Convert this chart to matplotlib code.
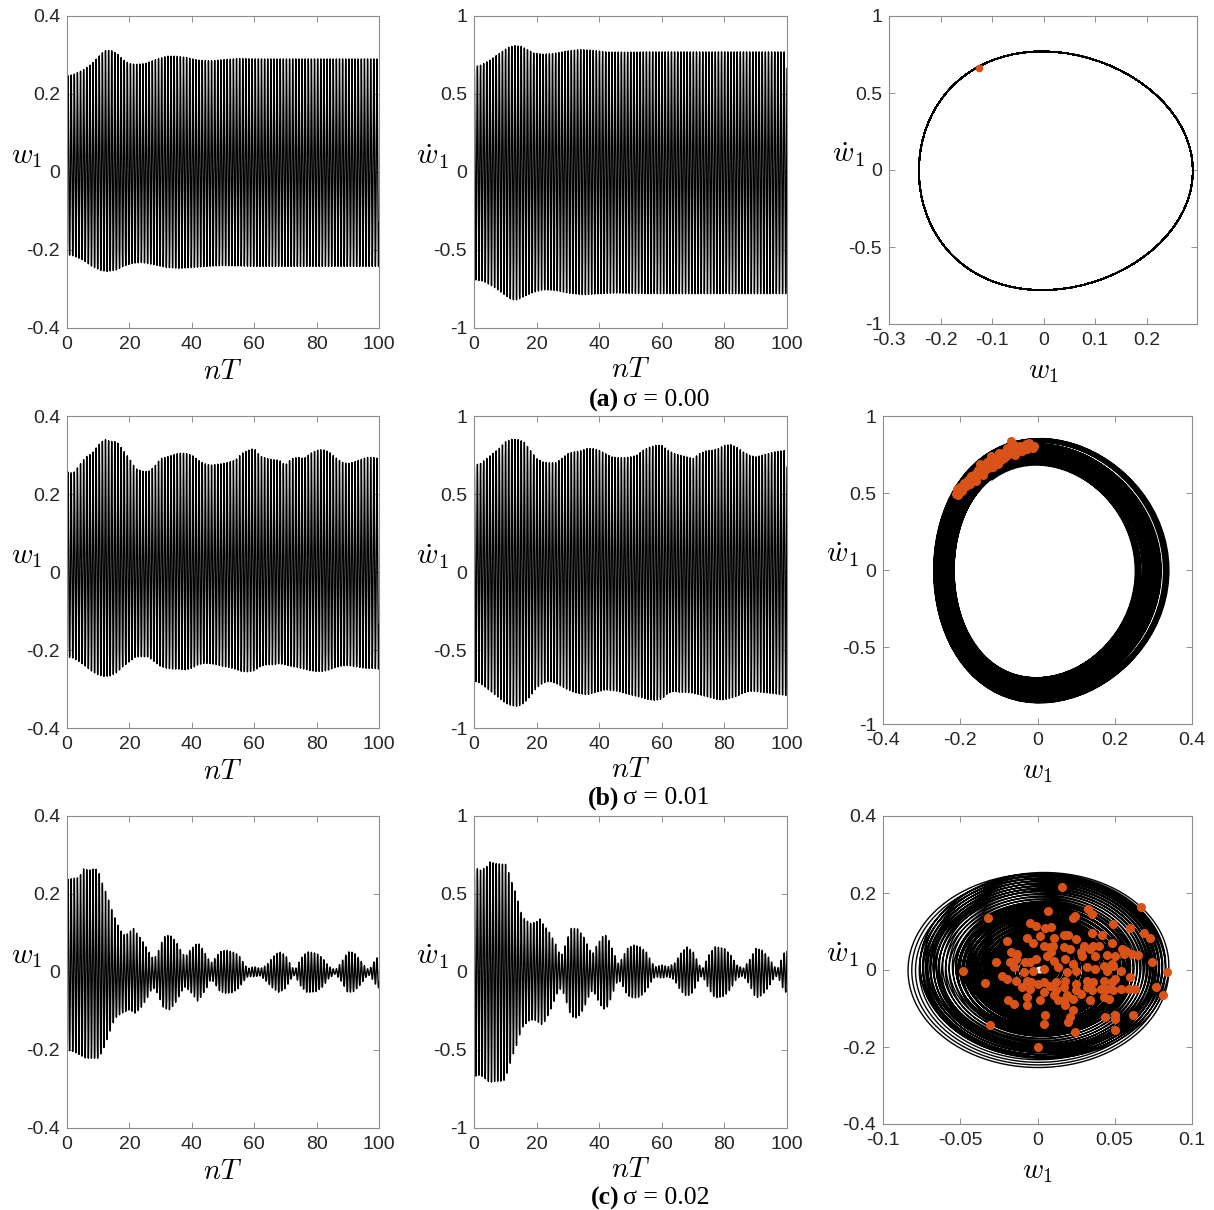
import numpy as np
import matplotlib
matplotlib.use('Agg')
import matplotlib.pyplot as plt

plt.rcParams['mathtext.fontset'] = 'cm'
plt.rcParams['font.family'] = 'Liberation Sans'
plt.rcParams['axes.unicode_minus'] = False

# ---- envelopes of the time histories (upper / lower peaks vs nT) ----
# sigma = 0.00
a_t_up = [0, 2, 5, 8, 10, 12, 14, 16, 18, 20, 22, 25, 28, 32, 35, 38, 42, 46, 50, 55, 60, 100]
a_w_up = [0.246, 0.25, 0.261, 0.278, 0.295, 0.311, 0.312, 0.304, 0.288, 0.278, 0.276,
          0.278, 0.287, 0.297, 0.297, 0.294, 0.287, 0.285, 0.288, 0.291, 0.29, 0.29]
a_t_lo = [0, 2, 5, 8, 11, 13, 16, 18, 21, 24, 28, 32, 36, 40, 45, 50, 60, 100]
a_w_lo = [-0.212, -0.215, -0.225, -0.242, -0.253, -0.255, -0.251, -0.242, -0.234,
          -0.232, -0.238, -0.245, -0.247, -0.245, -0.242, -0.24, -0.242, -0.242]
a_td_up = [0, 2, 5, 8, 11, 13, 15, 17, 19, 22, 25, 30, 34, 38, 42, 48, 55, 100]
a_dw_up = [0.674, 0.684, 0.716, 0.759, 0.80, 0.81, 0.806, 0.785, 0.763, 0.755,
           0.759, 0.776, 0.785, 0.78, 0.77, 0.768, 0.77, 0.77]
a_td_lo = [0, 3, 6, 9, 12, 14, 16, 19, 22, 26, 30, 35, 40, 45, 55, 100]
a_dw_lo = [-0.69, -0.70, -0.733, -0.776, -0.819, -0.819, -0.797, -0.772, -0.755,
           -0.759, -0.776, -0.787, -0.78, -0.776, -0.78, -0.78]

# sigma = 0.01 (every 2 nT)
b_t = list(range(0, 101, 2))
b_w_up = [0.257, 0.253, 0.274, 0.295, 0.304, 0.325, 0.34, 0.335, 0.334, 0.312,
          0.291, 0.265, 0.259, 0.257, 0.27, 0.291, 0.295, 0.30, 0.305, 0.304,
          0.30, 0.287, 0.278, 0.274, 0.276, 0.278, 0.282, 0.287, 0.304, 0.312,
          0.317, 0.297, 0.291, 0.288, 0.287, 0.274, 0.291, 0.294, 0.291, 0.304,
          0.312, 0.314, 0.308, 0.294, 0.282, 0.278, 0.282, 0.288, 0.294, 0.294, 0.291]
b_w_lo = [-0.217, -0.221, -0.23, -0.242, -0.255, -0.264, -0.268, -0.266, -0.258, -0.242,
          -0.23, -0.218, -0.217, -0.218, -0.23, -0.242, -0.247, -0.249, -0.249, -0.251,
          -0.247, -0.238, -0.234, -0.235, -0.238, -0.242, -0.245, -0.249, -0.255, -0.256,
          -0.253, -0.242, -0.238, -0.238, -0.235, -0.238, -0.242, -0.245, -0.249, -0.253,
          -0.255, -0.255, -0.251, -0.245, -0.241, -0.24, -0.242, -0.245, -0.247, -0.247, -0.249]
b_dw_up = [0.684, 0.695, 0.727, 0.759, 0.791, 0.834, 0.851, 0.849, 0.834, 0.78,
           0.727, 0.706, 0.70, 0.70, 0.727, 0.759, 0.77, 0.776, 0.791, 0.791,
           0.78, 0.759, 0.738, 0.733, 0.733, 0.738, 0.748, 0.78, 0.80, 0.812,
           0.812, 0.78, 0.759, 0.748, 0.738, 0.727, 0.759, 0.776, 0.78, 0.791,
           0.812, 0.817, 0.80, 0.77, 0.748, 0.738, 0.748, 0.759, 0.77, 0.776, 0.78]
b_dw_lo = [-0.70, -0.712, -0.744, -0.776, -0.808, -0.84, -0.857, -0.861, -0.84, -0.797,
           -0.744, -0.712, -0.70, -0.712, -0.733, -0.755, -0.772, -0.78, -0.787, -0.776,
           -0.765, -0.755, -0.759, -0.765, -0.776, -0.787, -0.797, -0.808, -0.819, -0.823,
           -0.814, -0.776, -0.765, -0.772, -0.772, -0.776, -0.787, -0.797, -0.808, -0.819,
           -0.819, -0.808, -0.797, -0.776, -0.765, -0.765, -0.772, -0.776, -0.78, -0.787, -0.793]

# sigma = 0.02
c_t_up = [0, 2, 4, 5, 7, 9, 10, 11, 12, 13, 14, 15, 16, 18, 20, 21, 22, 24, 26, 27,
          28, 29, 31, 33, 35, 37, 38, 39, 41, 42, 43, 45, 46, 47, 49, 51, 53, 55, 57, 58,
          60, 62, 64, 66, 68, 70, 72, 73, 75, 77, 80, 82, 84, 86, 88, 90, 92, 94, 96, 97,
          99, 100]
c_w_up = [0.237, 0.24, 0.242, 0.265, 0.261, 0.265, 0.261, 0.235, 0.214, 0.193,
          0.167, 0.146, 0.125, 0.095, 0.099, 0.116, 0.103, 0.082, 0.056, 0.039,
          0.035, 0.048, 0.09, 0.095, 0.078, 0.048, 0.039, 0.052, 0.069, 0.075,
          0.065, 0.039, 0.022, 0.031, 0.052, 0.056, 0.052, 0.044, 0.018, 0.009,
          0.014, 0.009, 0.018, 0.039, 0.052, 0.044, 0.014, 0.005, 0.035, 0.052,
          0.048, 0.035, 0.014, 0.005, 0.026, 0.052, 0.05, 0.031, 0.009, 0.007,
          0.035, 0.039]
c_t_lo = [0, 2, 4, 6, 8, 10, 11, 12, 13, 14, 15, 16, 18, 20, 22, 24, 26, 27, 28, 29,
          31, 33, 35, 37, 38, 40, 42, 43, 45, 46, 47, 49, 51, 53, 55, 57, 58, 60, 62, 64,
          66, 68, 70, 72, 73, 75, 77, 80, 82, 84, 86, 88, 90, 92, 94, 96, 97, 99, 100]
c_w_lo = [-0.20, -0.204, -0.212, -0.221, -0.221, -0.221, -0.208, -0.191, -0.17, -0.148,
          -0.127, -0.114, -0.104, -0.097, -0.106, -0.089, -0.063, -0.046, -0.042, -0.055,
          -0.093, -0.097, -0.076, -0.046, -0.038, -0.055, -0.076, -0.063, -0.038, -0.02,
          -0.025, -0.05, -0.055, -0.053, -0.042, -0.02, -0.012, -0.012, -0.01, -0.025,
          -0.042, -0.053, -0.042, -0.016, -0.008, -0.038, -0.053, -0.05, -0.038, -0.016,
          -0.005, -0.025, -0.053, -0.05, -0.033, -0.012, -0.008, -0.033, -0.042]
c_dw_up = [0.674, 0.652, 0.674, 0.706, 0.695, 0.691, 0.695, 0.642, 0.578, 0.525,
           0.461, 0.386, 0.343, 0.311, 0.322, 0.343, 0.311, 0.258, 0.183, 0.13,
           0.109, 0.162, 0.279, 0.279, 0.226, 0.141, 0.119, 0.162, 0.226, 0.237,
           0.205, 0.109, 0.055, 0.077, 0.151, 0.173, 0.162, 0.13, 0.055, 0.034,
           0.045, 0.034, 0.055, 0.119, 0.162, 0.13, 0.045, 0.023, 0.109, 0.162,
           0.151, 0.109, 0.045, 0.023, 0.077, 0.151, 0.141, 0.098, 0.034, 0.023,
           0.119, 0.151]
c_dw_lo = [-0.67, -0.66, -0.69, -0.708, -0.70, -0.70, -0.69, -0.62, -0.56, -0.50,
           -0.45, -0.37, -0.34, -0.307, -0.31, -0.33, -0.339, -0.264, -0.168, -0.12,
           -0.104, -0.16, -0.286, -0.296, -0.24, -0.14, -0.115, -0.16, -0.23, -0.243,
           -0.21, -0.10, -0.05, -0.07, -0.15, -0.168, -0.16, -0.12, -0.05, -0.03,
           -0.04, -0.03, -0.05, -0.12, -0.158, -0.13, -0.04, -0.025, -0.11, -0.168,
           -0.155, -0.11, -0.04, -0.025, -0.08, -0.168, -0.15, -0.10, -0.035, -0.025,
           -0.12, -0.136]

# phase-plane orbit for sigma = 0.02: w amplitude and orbit centre at successive loop counts
c_orbit_loop = [0, 12, 20, 30, 40, 50, 60, 70, 80, 90, 100, 110, 120, 130, 142, 150]
c_orbit_amp = [0.085, 0.058, 0.035, 0.005, 0.03, 0.058, 0.03, 0.004, 0.028, 0.056,
               0.025, 0.003, 0.03, 0.055, 0.081, 0.066]
c_orbit_cw = [0.0, 0.002, 0.002, 0.002, 0.003, 0.004, 0.002, 0.002, 0.002, 0.003,
              0.002, 0.002, 0.002, 0.003, 0.004, 0.003]
c_orbit_cdw = [0.0, 0.0, 0.0, 0.0, 0.0, 0.006, 0.0, 0.0, 0.0, -0.006,
               0.0, 0.0, 0.0, 0.008, 0.012, 0.006]

# ---- Poincare points (w1, dw1) ----
poincare_a = [(-0.126, 0.664)]
poincare_b = [(-0.210, 0.495), (-0.208, 0.525), (-0.200, 0.540), (-0.195, 0.515), (-0.190, 0.565),
              (-0.185, 0.545), (-0.180, 0.585), (-0.175, 0.560), (-0.172, 0.610), (-0.168, 0.590),
              (-0.162, 0.625), (-0.158, 0.600), (-0.155, 0.650), (-0.150, 0.630), (-0.146, 0.665),
              (-0.142, 0.615), (-0.138, 0.680), (-0.135, 0.650), (-0.130, 0.700), (-0.127, 0.665),
              (-0.122, 0.690), (-0.118, 0.715), (-0.115, 0.670), (-0.110, 0.700), (-0.105, 0.730),
              (-0.102, 0.690), (-0.098, 0.745), (-0.095, 0.715), (-0.090, 0.760), (-0.088, 0.725),
              (-0.082, 0.740), (-0.078, 0.775), (-0.075, 0.755), (-0.070, 0.800), (-0.068, 0.835),
              (-0.065, 0.770), (-0.062, 0.810), (-0.058, 0.745), (-0.055, 0.790), (-0.050, 0.775),
              (-0.045, 0.805), (-0.040, 0.770), (-0.036, 0.795), (-0.030, 0.815), (-0.026, 0.785),
              (-0.022, 0.825), (-0.018, 0.800), (-0.012, 0.790), (-0.008, 0.805), (-0.205, 0.485),
              (-0.192, 0.530), (-0.160, 0.575), (-0.120, 0.740), (-0.100, 0.760), (-0.080, 0.790),
              (-0.150, 0.690)]
poincare_c = [(0.0157, 0.2155), (0.0667, 0.164), (-0.032, 0.134), (0.007, 0.153), (0.033, 0.158),
              (0.035, 0.145), (0.023, 0.136), (0.024, 0.14), (0.049, 0.119), (0.060, 0.109),
              (0.069, 0.095), (0.073, 0.084), (-0.005, 0.123), (-0.001, 0.115), (0.009, 0.112),
              (0.0015, 0.089), (-0.007, 0.084), (-0.020, 0.076), (0.017, 0.091), (0.020, 0.091),
              (0.011, 0.084), (0.025, 0.080), (0.035, 0.097), (0.042, 0.091), (0.048, 0.069),
              (0.036, 0.063), (0.030, 0.063), (-0.003, 0.070), (0.004, 0.063), (0.008, 0.059),
              (0.017, 0.059), (0.021, 0.054), (0.028, 0.046), (0.034, 0.054), (0.040, 0.063),
              (0.057, 0.050), (0.056, 0.041), (0.050, 0.037), (0.045, 0.039), (0.061, 0.041),
              (0.065, 0.039), (-0.017, 0.046), (-0.013, 0.041), (-0.014, 0.028), (-0.018, 0.020),
              (-0.027, 0.020), (-0.008, 0.020), (-0.005, 0.020), (-0.001, 0.028), (0.006, 0.037),
              (0.009, 0.046), (0.011, 0.024), (0.018, 0.028), (0.023, 0.016), (0.029, 0.037),
              (0.037, 0.037), (0.043, 0.011), (0.048, 0.016), (0.054, -0.002), (0.049, 0.011),
              (0.074, 0.022), (-0.048, -0.002), (-0.023, -0.015), (-0.015, 0.007), (-0.009, -0.006),
              (-0.003, -0.002), (0.004, 0.003), (0.013, 0.007), (0.019, -0.006), (0.025, -0.002),
              (0.032, 0.007), (0.037, 0.003), (0.045, -0.002), (0.060, -0.019), (0.084, -0.004),
              (-0.034, -0.034), (-0.020, -0.023), (-0.014, -0.028), (-0.007, -0.028), (-0.004, -0.032),
              (0.0004, -0.036), (0.004, -0.030), (0.008, -0.041), (0.012, -0.032), (0.018, -0.028),
              (0.025, -0.036), (0.032, -0.028), (0.036, -0.032), (0.043, -0.028), (0.048, -0.032),
              (0.050, -0.023), (-0.010, -0.045), (-0.005, -0.049), (0.004, -0.058), (0.012, -0.053),
              (0.017, -0.045), (0.025, -0.053), (0.032, -0.045), (0.035, -0.051), (0.041, -0.049),
              (0.045, -0.049), (0.049, -0.053), (0.054, -0.049), (0.077, -0.043), (0.059, -0.049),
              (0.063, -0.049), (-0.019, -0.079), (-0.015, -0.088), (-0.007, -0.071), (0.0015, -0.079),
              (0.011, -0.066), (0.013, -0.079), (0.019, -0.066), (0.017, -0.079), (0.023, -0.075),
              (0.028, -0.062), (0.034, -0.079), (0.043, -0.071), (0.046, -0.075), (0.081, -0.066),
              (-0.007, -0.092), (0.018, -0.092), (0.023, -0.105), (0.021, -0.122), (0.005, -0.118),
              (0.004, -0.140), (-0.031, -0.142), (0.020, -0.135), (0.024, -0.161), (0.0004, -0.2),
              (0.044, -0.122), (0.050, -0.118), (0.050, -0.127), (0.062, -0.118), (0.050, -0.157),
              (0.055, 0.054), (0.005, 0.110), (0.010, 0.063)]

captions = [('(a)', '\u03c3 = 0.00'), ('(b)', '\u03c3 = 0.01'), ('(c)', '\u03c3 = 0.02')]

# ---- build the oscillations from the envelopes ----
t = np.linspace(0, 100, 8001)
theta = 2 * np.pi * t - 2.1
w_shape = np.cos(theta) + 0.05 * (np.cos(2 * theta) - 1)
dw_shape = -np.sin(theta)


def from_envelope(t_up, up, t_lo, lo, shape):
    upper = np.interp(t, t_up, up)
    lower = np.interp(t, t_lo, lo)
    return 0.5 * (upper + lower) + 0.5 * (upper - lower) * shape


w_a = from_envelope(a_t_up, a_w_up, a_t_lo, a_w_lo, w_shape)
dw_a = from_envelope(a_td_up, a_dw_up, a_td_lo, a_dw_lo, dw_shape)
w_b = from_envelope(b_t, b_w_up, b_t, b_w_lo, w_shape)
dw_b = from_envelope(b_t, b_dw_up, b_t, b_dw_lo, dw_shape)
w_c = from_envelope(c_t_up, c_w_up, c_t_lo, c_w_lo, w_shape)
dw_c = from_envelope(c_t_up, c_dw_up, c_t_up, c_dw_lo, dw_shape)

s = np.linspace(0, c_orbit_loop[-1], c_orbit_loop[-1] * 200 + 1)
amp_c = np.interp(s, c_orbit_loop, c_orbit_amp)
cw_c = np.interp(s, c_orbit_loop, c_orbit_cw)
cdw_c = np.interp(s, c_orbit_loop, c_orbit_cdw)
orbit_w_c = cw_c + amp_c * np.cos(2 * np.pi * s)
orbit_dw_c = cdw_c - 3.0 * amp_c * np.sin(2 * np.pi * s)

steady = t >= 60

# ---- figure ----
W, H = 1214, 1210
fig = plt.figure(figsize=(W / 100, H / 100), dpi=100)


def px_axes(x0, x1, y0, y1):
    return fig.add_axes([x0 / W, 1 - y1 / H, (x1 - x0) / W, (y1 - y0) / H])


def style(ax, xticks, yticks, xlim, ylim, xlab, ylab, xlab_y, ylab_x):
    ax.set_xlim(xlim)
    ax.set_ylim(ylim)
    ax.set_xticks(xticks)
    ax.set_xticklabels(['%g' % v for v in xticks])
    ax.set_yticks(yticks)
    ax.set_yticklabels(['%g' % v for v in yticks])
    ax.tick_params(direction='in', top=True, right=True, length=4, width=0.6,
                   color='#808080', labelcolor='#262626', labelsize=14)
    ax.tick_params(axis='x', pad=6)
    ax.tick_params(axis='y', pad=5)
    for sp in ax.spines.values():
        sp.set_color('#8c8c8c')
        sp.set_linewidth(0.8)
    ax.set_xlabel(xlab, fontsize=20.5)
    ax.xaxis.set_label_coords(0.5, xlab_y)
    ax.xaxis.label.set_va('center')
    ax.set_ylabel(ylab, fontsize=21, rotation=0, ha='center', va='center')
    ax.yaxis.set_label_coords(ylab_x, 0.55)


rows = [(16, 328, 16, 324, 889, 1197), (416, 728, 416, 724, 883, 1192), (816, 1128, 816, 1124, 883, 1192)]
series = [(w_a, dw_a), (w_b, dw_b), (w_c, dw_c)]
cap_y = [400, 798, 1198]

t_ticks = [0, 20, 40, 60, 80, 100]
for i, ((y0, y1, ry0, ry1, rx0, rx1), (w, dw)) in enumerate(zip(rows, series)):
    ax = px_axes(67, 379, y0, y1)
    ax.plot(t, w, color='k', lw=1.0)
    style(ax, t_ticks, [-0.4, -0.2, 0, 0.2, 0.4], (0, 100), (-0.4, 0.4),
          r'$nT$', r'$w_1$', -0.14, -0.128)

    ax = px_axes(474, 787, y0, y1)
    ax.plot(t, dw, color='k', lw=1.0)
    style(ax, t_ticks, [-1, -0.5, 0, 0.5, 1], (0, 100), (-1, 1),
          r'$nT$', r'$\dot{w}_1$', -0.135, -0.134)

    ax = px_axes(rx0, rx1, ry0, ry1)
    if i == 0:
        ax.plot(w[steady], dw[steady], color='k', lw=1.0)
        pts = poincare_a
        ms = 4.5
        style(ax, [-0.3, -0.2, -0.1, 0, 0.1, 0.2], [-1, -0.5, 0, 0.5, 1], (-0.3, 0.298), (-1, 1),
              r'$w_1$', r'$\dot{w}_1$', -0.155, -0.133)
    elif i == 1:
        ax.plot(w, dw, color='k', lw=1.6)
        pts = poincare_b
        ms = 5.5
        style(ax, [-0.4, -0.2, 0, 0.2, 0.4], [-1, -0.5, 0, 0.5, 1], (-0.4, 0.4), (-1, 1),
              r'$w_1$', r'$\dot{w}_1$', -0.155, -0.13)
    else:
        ax.plot(orbit_w_c, orbit_dw_c, color='k', lw=1.0)
        pts = poincare_c
        ms = 5.5
        style(ax, [-0.1, -0.05, 0, 0.05, 0.1], [-0.4, -0.2, 0, 0.2, 0.4], (-0.1, 0.1), (-0.4, 0.4),
              r'$w_1$', r'$\dot{w}_1$', -0.155, -0.13)
    px, py = zip(*pts)
    ax.plot(px, py, 'o', color='#D95319', ms=ms, mec='#D95319', ls='none')

    lab, sig = captions[i]
    fig.text(619 / W, 1 - cap_y[i] / H, lab, fontsize=18.5, fontweight='bold',
             family='Liberation Serif', ha='right', va='center')
    fig.text(623 / W, 1 - cap_y[i] / H, sig, fontsize=18.5,
             family='Liberation Serif', ha='left', va='center')

fig.savefig('out.png', dpi=100)
